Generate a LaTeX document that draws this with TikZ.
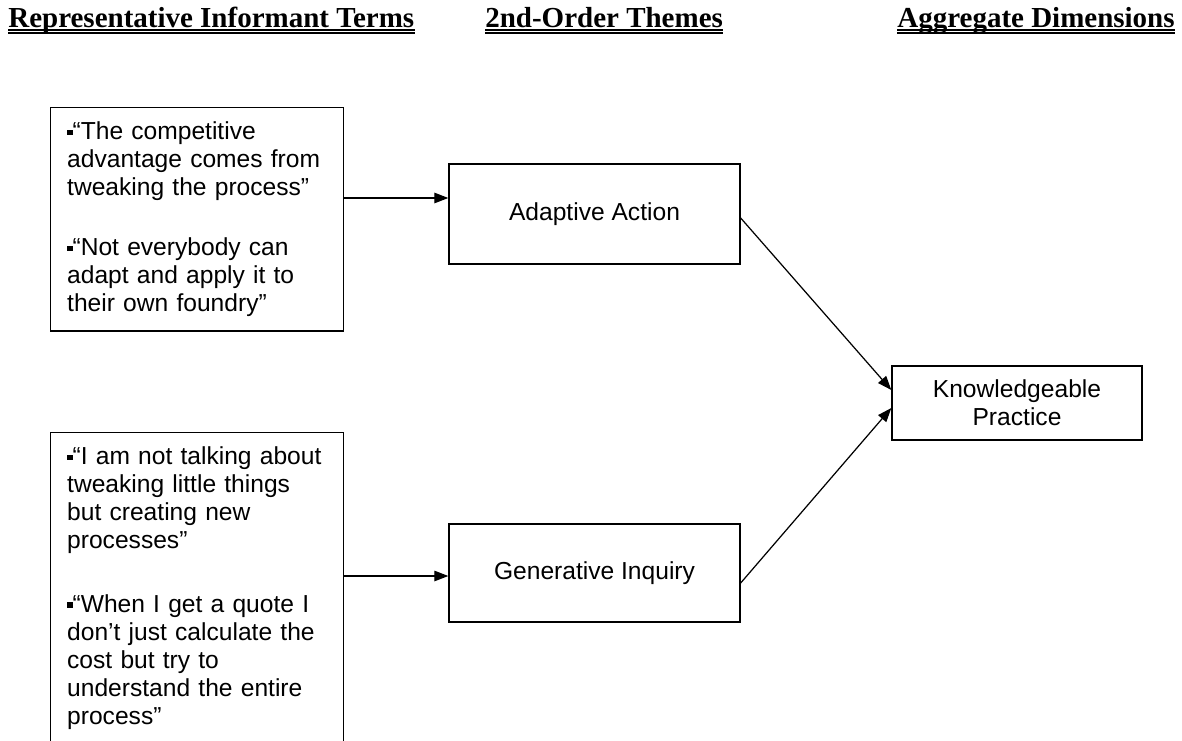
\documentclass[tikz,border=0pt]{standalone}
\usepackage{fontspec}
\setmainfont{Liberation Sans}
\newfontfamily\headfont{Liberation Serif}
\usetikzlibrary{arrows.meta, positioning, calc}

\newcommand{\sqb}{\rule[0.35ex]{0.22em}{0.22em}}

\begin{document}
\begin{tikzpicture}[
  x=0.02cm, y=-0.02cm,
  head/.style={inner sep=0pt, font=\headfont\fontsize{16.5}{18}\selectfont\bfseries},
  quote/.style={draw, line width=0.8pt, text width=5.2cm, align=left, inner xsep=0.33cm, inner ysep=0.28cm, font=\fontsize{14}{16}\selectfont},
  theme/.style={draw, line width=0.8pt, minimum width=5.82cm, minimum height=2cm, font=\fontsize{14}{16}\selectfont},
  arr/.style={line width=0.7pt, -{Triangle[length=8pt, width=6pt]}}
]
  \useasboundingbox (0,0) rectangle (1182,740);
  \clip (0,0) rectangle (1182,740);

  \node[head, anchor=base west] (h1) at (8,28) {Representative Informant Terms};
  \node[head, anchor=base west] (h2) at (485,28) {2nd-Order Themes};
  \node[head, anchor=base east] (h3) at (1175,28) {Aggregate Dimensions};
  \foreach \h in {h1, h2, h3} {
    \draw[line width=0.6pt] ([yshift=-0.04cm]\h.base west) -- ([yshift=-0.04cm]\h.base east);
    \draw[line width=0.6pt] ([yshift=-0.1cm]\h.base west) -- ([yshift=-0.1cm]\h.base east);
  }

  \node[quote, anchor=north west] (q1) at (50,107) {
    \sqb“The competitive\\ advantage comes from\\ tweaking the process”\\[18pt]
    \sqb“Not everybody can\\ adapt and apply it to\\ their own foundry”
  };
  \node[quote, anchor=north west] (q2) at (50,432) {
    \sqb“I am not talking about\\ tweaking little things\\ but creating new\\ processes”\\[20pt]
    \sqb“When I get a quote I\\ don’t just calculate the\\ cost but try to\\ understand the entire\\ process”\rule[-1cm]{0pt}{0pt}
  };

  \node[theme] (aa) at (594.5,214) {Adaptive Action};
  \node[theme, minimum height=1.96cm] (gi) at (594.5,573) {Generative Inquiry};
  \node[theme, minimum width=5cm, minimum height=1.48cm, align=center] (kp) at (1017,403) {Knowledgeable\\Practice};

  \draw[arr] (q1.east |- 0,198) -- (aa.west |- 0,198);
  \draw[arr] (q2.east |- 0,576) -- (gi.west |- 0,576);
  \draw[arr] ([yshift=-0.08cm]aa.east) -- ([yshift=0.26cm]kp.west);
  \draw[arr] ([yshift=-0.2cm]gi.east) -- ([yshift=-0.1cm]kp.west);
\end{tikzpicture}
\end{document}
